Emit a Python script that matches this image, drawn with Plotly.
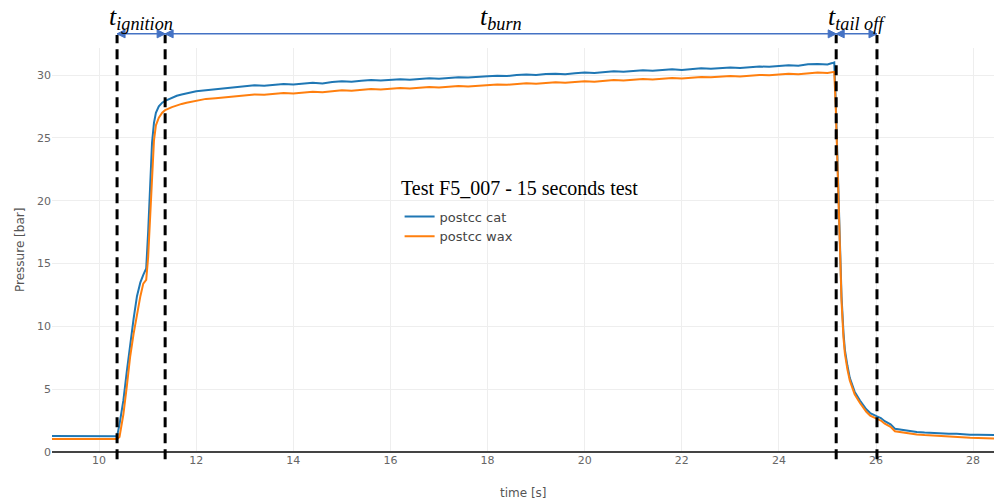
import plotly.graph_objects as go

# ---------------- data ----------------
time_s = [
    9.03, 9.5, 10.0, 10.3, 10.37, 10.42, 10.5, 10.57, 10.64, 10.71, 10.78, 10.85,
    10.91, 10.97, 11.01, 11.05, 11.09, 11.13, 11.17, 11.23, 11.3, 11.36, 11.5,
    11.6, 11.7, 11.8, 11.9, 12.0,
    12.2, 12.4, 12.6, 12.8, 13.0, 13.2, 13.4, 13.6, 13.8, 14.0, 14.2, 14.4, 14.6,
    14.8, 15.0, 15.2, 15.4, 15.6, 15.8, 16.0, 16.2, 16.4, 16.6, 16.8, 17.0, 17.2,
    17.4, 17.6, 17.8, 18.0, 18.2, 18.4, 18.6, 18.8, 19.0, 19.2, 19.4, 19.6, 19.8,
    20.0, 20.2, 20.4, 20.6, 20.8, 21.0, 21.2, 21.4, 21.6, 21.8, 22.0, 22.2, 22.4,
    22.6, 22.8, 23.0, 23.2, 23.4, 23.6, 23.8, 24.0, 24.2, 24.4, 24.6, 24.8, 25.0,
    25.1, 25.14, 25.17, 25.2, 25.24, 25.29, 25.33, 25.36, 25.41, 25.46, 25.56,
    25.67, 25.8, 25.88, 26.01, 26.1, 26.18, 26.3, 26.39, 26.56, 26.7, 26.84,
    27.0, 27.11, 27.3, 27.5, 27.66, 27.8, 27.94, 28.1, 28.25, 28.43,
]

postcc_cat = [
    1.28, 1.28, 1.28, 1.27, 1.25, 2.2, 4.1, 6.4, 8.7, 10.6, 12.4, 13.5,
    14.1, 14.6, 17.5, 20.5, 24.6, 26.2, 27.0, 27.5, 27.8, 27.95, 28.2,
    28.35, 28.45, 28.55, 28.62, 28.7,
    28.78, 28.86, 28.93, 29.02, 29.08, 29.18, 29.15, 29.22, 29.28, 29.25, 29.34, 29.38, 29.33,
    29.45, 29.5, 29.46, 29.55, 29.6, 29.57, 29.63, 29.66, 29.62, 29.7, 29.74, 29.7, 29.78,
    29.83, 29.8, 29.88, 29.9, 29.95, 29.92, 30.0, 30.04, 30.0, 30.08, 30.1, 30.06, 30.14,
    30.2, 30.16, 30.24, 30.3, 30.26, 30.33, 30.37, 30.34, 30.42, 30.45, 30.4, 30.48, 30.53,
    30.5, 30.58, 30.6, 30.56, 30.64, 30.68, 30.65, 30.72, 30.78, 30.74, 30.85, 30.88, 30.84,
    30.95, 31.0, 28.0, 24.0, 18.5, 12.4, 9.5, 8.1, 6.9, 5.9, 4.8,
    4.1, 3.4, 3.1, 2.85, 2.7, 2.45, 2.2, 1.85, 1.75, 1.65, 1.6,
    1.55, 1.52, 1.5, 1.45, 1.45, 1.4, 1.38, 1.37, 1.37, 1.36,
]

postcc_wax = [
    1.04, 1.04, 1.04, 1.03, 1.03, 1.2, 3.0, 5.2, 7.6, 9.4, 11.0, 12.4,
    13.4, 13.7, 15.5, 18.5, 22.0, 24.8, 26.0, 26.6, 27.0, 27.2, 27.45,
    27.6, 27.7, 27.8, 27.88, 27.95,
    28.1, 28.16, 28.22, 28.3, 28.36, 28.45, 28.42, 28.5, 28.56, 28.53, 28.6, 28.66, 28.62,
    28.72, 28.78, 28.75, 28.82, 28.88, 28.84, 28.92, 28.96, 28.92, 28.99, 29.04, 29.0, 29.08,
    29.12, 29.09, 29.16, 29.2, 29.25, 29.22, 29.3, 29.34, 29.3, 29.38, 29.42, 29.38, 29.46,
    29.5, 29.46, 29.55, 29.6, 29.56, 29.64, 29.68, 29.65, 29.73, 29.77, 29.72, 29.8, 29.85,
    29.82, 29.9, 29.93, 29.89, 29.97, 30.01, 29.98, 30.05, 30.1, 30.06, 30.15, 30.2, 30.16,
    30.22, 30.25, 27.6, 23.6, 18.0, 12.0, 9.1, 7.8, 6.6, 5.7, 4.6,
    3.9, 3.2, 2.9, 2.65, 2.5, 2.25, 2.0, 1.65, 1.55, 1.45, 1.4,
    1.35, 1.32, 1.3, 1.25, 1.22, 1.18, 1.14, 1.12, 1.1, 1.08,
]

series_names = ["postcc cat", "postcc wax"]
series_colors = ["#1f77b4", "#ff7f0e"]

# phase boundaries (s) and phase labels
phase_bounds = [10.37, 11.36, 25.18, 26.02]
phase_labels = ["<i>t<sub>ignition</sub></i>", "<i>t<sub>burn</sub></i>", "<i>t<sub>tail off</sub></i>"]

chart_title = "Test F5_007 - 15 seconds test"
x_title = "time [s]"
y_title = "Pressure [bar]"
x_ticks = [10, 12, 14, 16, 18, 20, 22, 24, 26, 28]
y_ticks = [0, 5, 10, 15, 20, 25, 30]

X_RANGE = [9.03, 28.43]
Y_RANGE = [0, 32.15]
ARROW_COLOR = "#4472C4"
ARROW_Y = 1.035  # paper fraction

# ---------------- figure ----------------
fig = go.Figure()
for name, vals, col in zip(series_names, [postcc_cat, postcc_wax], series_colors):
    fig.add_trace(go.Scatter(x=time_s, y=vals, mode="lines", name=name,
                             line=dict(color=col, width=2)))

shapes = []
for b in phase_bounds:
    shapes.append(dict(type="line", xref="x", yref="paper", x0=b, x1=b,
                       y0=-0.018, y1=1.032,
                       line=dict(color="black", width=3, dash="10px,6px")))

head_right = "M0,0 L-8,4 L-8,-4 Z"
head_left = "M0,0 L8,4 L8,-4 Z"
annotations = []
for i in range(3):
    a, b = phase_bounds[i], phase_bounds[i + 1]
    shapes.append(dict(type="line", xref="x", yref="paper", x0=a, x1=b,
                       y0=ARROW_Y, y1=ARROW_Y,
                       line=dict(color=ARROW_COLOR, width=1.5)))
    for anchor, path in ((a, head_left), (b, head_right)):
        shapes.append(dict(type="path", xref="x", yref="paper",
                           xsizemode="pixel", ysizemode="pixel",
                           xanchor=anchor, yanchor=ARROW_Y, path=path,
                           fillcolor=ARROW_COLOR, line=dict(color=ARROW_COLOR, width=1)))
    annotations.append(dict(x=(a + b) / 2, y=1.075, xref="x", yref="paper",
                            xanchor="center", yanchor="middle",
                            text=phase_labels[i], showarrow=False,
                            font=dict(family="Liberation Serif", size=26, color="black")))

annotations.append(dict(x=0.496, y=0.653, xref="paper", yref="paper",
                        xanchor="center", yanchor="middle",
                        text=chart_title, showarrow=False,
                        font=dict(family="Liberation Serif", size=20, color="black")))
annotations.append(dict(x=0.5, y=-0.101, xref="paper", yref="paper",
                        xanchor="center", yanchor="middle",
                        text=x_title, showarrow=False,
                        font=dict(family="DejaVu Sans", size=12, color="#555")))
annotations.append(dict(x=-0.034, y=0.5, xref="paper", yref="paper",
                        xanchor="center", yanchor="middle", textangle=-90,
                        text=y_title, showarrow=False,
                        font=dict(family="DejaVu Sans", size=12, color="#555")))

fig.update_layout(
    width=994, height=504,
    margin=dict(l=52, r=0, t=48, b=52),
    paper_bgcolor="white", plot_bgcolor="white",
    font=dict(family="DejaVu Sans", size=11, color="#666"),
    showlegend=True,
    legend=dict(x=0.369, y=0.62, xanchor="left", yanchor="top",
                bgcolor="rgba(0,0,0,0)", font=dict(family="DejaVu Sans", size=13, color="#444")),
    shapes=shapes,
    annotations=annotations,
)
fig.update_xaxes(range=X_RANGE, tickvals=x_ticks, showgrid=True, gridcolor="#eeeeee",
                 zeroline=False, showline=False, ticks="", automargin=False)
fig.update_yaxes(range=Y_RANGE, tickvals=y_ticks, showgrid=True, gridcolor="#eeeeee",
                 zeroline=True, zerolinecolor="#444", zerolinewidth=1.5, showline=False, ticks="",
                 automargin=False)

fig.write_html("out.html", config={"displayModeBar": False},
               post_script="document.body.style.margin='0px';")
